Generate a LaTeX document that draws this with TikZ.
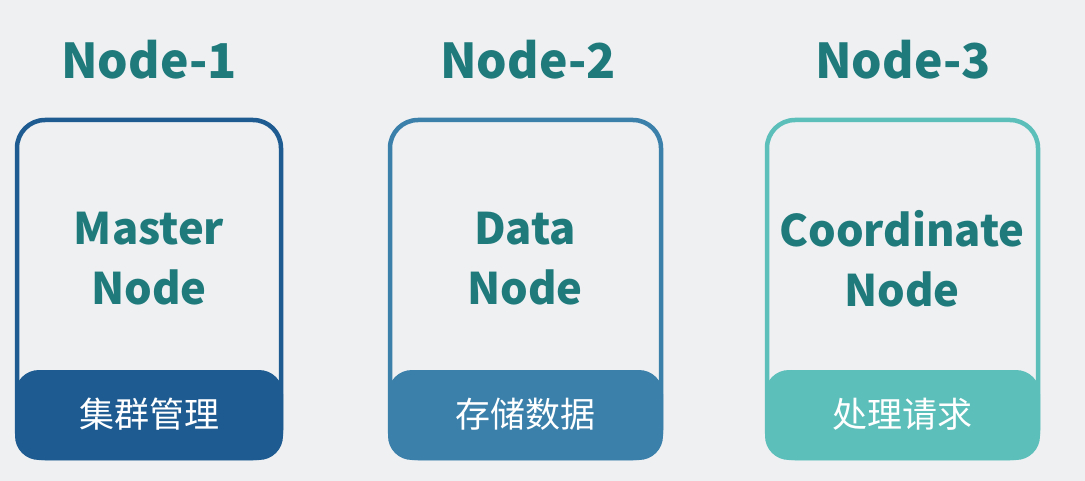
\documentclass[tikz,border=0pt]{standalone}
\usepackage{fontspec}
\usepackage{xcolor}
\newfontfamily\cjkfont{Noto Sans CJK SC}
\definecolor{bgcol}{RGB}{238,240,242}
\definecolor{titlecol}{RGB}{31,122,124}
\definecolor{masterblue}{RGB}{30,91,145}
\definecolor{datablue}{RGB}{59,128,170}
\definecolor{coordteal}{RGB}{92,191,186}
\tikzset{
  headlabel/.style={text=titlecol,font=\cjkfont\bfseries\fontsize{48}{52}\selectfont},
  kindlabel/.style={text=titlecol,align=center,font=\cjkfont\bfseries\fontsize{43.5}{60}\selectfont},
  rolelabel/.style={text=white,font=\cjkfont\fontsize{35}{38}\selectfont},
  nodeframe/.style={line width=4.5pt,rounded corners=28pt},
  roleband/.style={rounded corners=24pt}
}

\begin{document}
\begin{tikzpicture}[x=1pt,y=-1pt]
\useasboundingbox[fill=bgcol] (0,0) rectangle (1085,481);
% bottom bands
\fill[roleband,masterblue] (15,370) rectangle (283,460);
\fill[roleband,datablue] (388,370) rectangle (663,460);
\fill[roleband,coordteal] (765,370) rectangle (1040,460);
% frames
\draw[nodeframe,masterblue] (17,120) rectangle (281,458);
\draw[nodeframe,datablue] (390,120) rectangle (661,458);
\draw[nodeframe,coordteal] (767,120) rectangle (1038,458);
% titles
\node[headlabel] (t1) at (149,60) {Node-1};
\node[headlabel] (t2) at (528,60) {Node-2};
\node[headlabel] (t3) at (903,60) {Node-3};
% node kinds
\node[kindlabel] (master) at (149,259) {Master\\Node};
\node[kindlabel] (data) at (525,259) {Data\\Node};
\node[kindlabel] (coord) at (902,259) {Coordinate\\Node};
% roles
\node[rolelabel] (j1) at (149,414) {集群管理};
\node[rolelabel] (j2) at (525,414) {存储数据};
\node[rolelabel] (j3) at (902,414) {处理请求};
\end{tikzpicture}
\end{document}
